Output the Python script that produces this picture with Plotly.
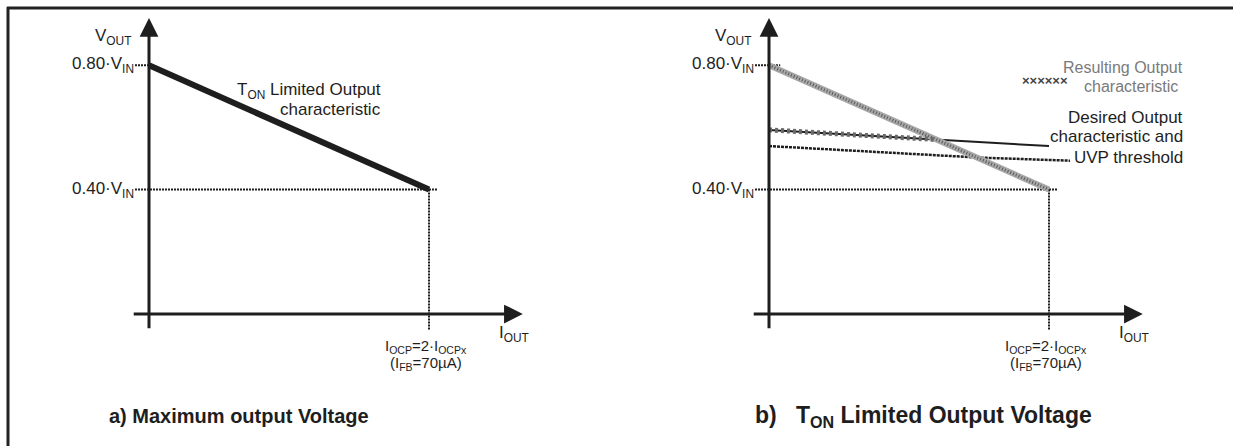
import plotly.graph_objects as go

# ---------------- data (units: x in I_OCP, y in V_IN) ----------------
ton_x = [0.0, 1.0]
ton_y = [0.80, 0.40]
desired_x = [0.0, 1.0]
desired_y = [0.592, 0.540]
uvp_x = [0.0, 0.75, 1.075]
uvp_y = [0.540, 0.503, 0.493]
resulting_x = [0.0, 0.598]
resulting_y = [0.592, 0.561]
v_levels = [0.80, 0.40]
v_labels = ["0.80·V<sub>IN</sub>", "0.40·V<sub>IN</sub>"]
i_ocp = 1.0

W, H = 1234, 446
X0L, X0R, XU = 149, 769, 280.0
Y0, YU = 314, 311.0

FONT = "Liberation Sans, Arial, sans-serif"
INK = "#1e1e1e"
FRAME = "#232323"

fig = go.Figure()

def add_panel(xa, right):
    dot = "2px,1px"
    fig.add_trace(go.Scatter(x=[-0.05, 0.04 if right else 0.0], y=[v_levels[0]] * 2, mode="lines",
                             line=dict(color=INK, width=2, dash=dot), xaxis=xa, yaxis="y", hoverinfo="skip"))
    fig.add_trace(go.Scatter(x=[-0.05, 1.03], y=[v_levels[1]] * 2, mode="lines",
                             line=dict(color=INK, width=2, dash=dot), xaxis=xa, yaxis="y", hoverinfo="skip"))
    fig.add_trace(go.Scatter(x=[i_ocp, i_ocp], y=[v_levels[1], -0.05], mode="lines",
                             line=dict(color=INK, width=2, dash=dot), xaxis=xa, yaxis="y", hoverinfo="skip"))

add_panel("x", False)
add_panel("x2", True)

# left panel: T_ON limited line
fig.add_trace(go.Scatter(x=ton_x, y=ton_y, mode="lines", line=dict(color=INK, width=6),
                         xaxis="x", yaxis="y", hoverinfo="skip"))

# right panel
fig.add_trace(go.Scatter(x=uvp_x, y=uvp_y, mode="lines", line=dict(color=INK, width=2.5, dash="3px,1px"),
                         xaxis="x2", yaxis="y", hoverinfo="skip"))
fig.add_trace(go.Scatter(x=desired_x, y=desired_y, mode="lines", line=dict(color=INK, width=2),
                         xaxis="x2", yaxis="y", hoverinfo="skip"))
fig.add_trace(go.Scatter(x=ton_x, y=ton_y, mode="lines", line=dict(color="#a8a8a8", width=6),
                         xaxis="x2", yaxis="y", hoverinfo="skip"))
fig.add_trace(go.Scatter(x=ton_x, y=ton_y, mode="lines", line=dict(color="#5a5a5a", width=3, dash="1px,2px"),
                         xaxis="x2", yaxis="y", hoverinfo="skip"))
fig.add_trace(go.Scatter(x=resulting_x, y=resulting_y, mode="lines", line=dict(color="#6a6a6a", width=5, dash="3px,3px"),
                         xaxis="x2", yaxis="y", hoverinfo="skip"))

ann = []
def axis_arrow(xa, x, y, ax, ay):
    ann.append(dict(xref=xa, yref="y", axref=xa, ayref="y", x=x, y=y, ax=ax, ay=ay, text="",
                    showarrow=True, arrowhead=2, arrowsize=1.25, arrowwidth=3, arrowcolor=INK))

for xa in ("x", "x2"):
    axis_arrow(xa, 0.0, (Y0 - 18) / YU, 0.0, -0.051)
    axis_arrow(xa, 1.335, 0.0, -0.06, 0.0)

def text(xa, x, y, s, size=17, xanchor="right", color=INK):
    ann.append(dict(xref=xa, yref="y", x=x, y=y, text=s, showarrow=False, xanchor=xanchor,
                    yanchor="middle", font=dict(family=FONT, size=size, color=color)))

for xa in ("x", "x2"):
    text(xa, -0.058, (Y0 - 37) / YU, "V<sub>OUT</sub>")
    for lv, lb in zip(v_levels, v_labels):
        text(xa, -0.048, lv, lb)
    text(xa, 1.243, -0.064, "I<sub>OUT</sub>", xanchor="left")
    text(xa, 0.99, -0.103, "I<sub>OCP</sub>=2·I<sub>OCPx</sub>", size=15, xanchor="center")
    text(xa, 0.99, -0.158, "(I<sub>FB</sub>=70µA)", size=15, xanchor="center")

text("x", 0.836, (Y0 - 91) / YU, "T<sub>ON</sub> Limited Output")
text("x", 0.836, (Y0 - 109) / YU, "characteristic")

gray = "#7a7a7a"
text("x2", 1.486, (Y0 - 67) / YU, "Resulting Output", size=16, color=gray)
text("x2", 1.468, (Y0 - 86) / YU, "characteristic", size=16, color=gray)
text("x2", 0.986, (Y0 - 80) / YU, "<b>××××××</b>", size=13, xanchor="center", color="#444444")
text("x2", 1.486, (Y0 - 117) / YU, "Desired Output")
text("x2", 1.486, (Y0 - 136) / YU, "characteristic and")
text("x2", 1.486, (Y0 - 157) / YU, "UVP threshold")

# bottom captions
for px, s, sz in [(107, "<b>a) Maximum output Voltage</b>", 20),
                  (753, "<b>b)\u00a0\u00a0\u00a0T<sub>ON</sub> Limited Output Voltage</b>", 23)]:
    ann.append(dict(xref="paper", yref="paper", x=px / W, y=1 - 416 / H, text=s, showarrow=False,
                    xanchor="left", yanchor="middle", font=dict(family=FONT, size=sz, color=INK)))

# open frame (top and left edges only)
shapes = [
    dict(type="line", xref="paper", yref="paper", x0=7 / W, x1=(W - 1) / W, y0=1 - 8 / H, y1=1 - 8 / H,
         line=dict(color=FRAME, width=3)),
    dict(type="line", xref="paper", yref="paper", x0=8 / W, x1=8 / W, y0=1 - 7 / H, y1=0,
         line=dict(color=FRAME, width=3)),
]

fig.update_layout(
    width=W, height=H, margin=dict(l=0, r=0, t=0, b=0),
    paper_bgcolor="white", plot_bgcolor="white", showlegend=False,
    xaxis=dict(domain=[0, 1], range=[-X0L / XU, (W - X0L) / XU], visible=False, fixedrange=True),
    xaxis2=dict(domain=[0, 1], range=[-X0R / XU, (W - X0R) / XU], visible=False, overlaying="x", fixedrange=True),
    yaxis=dict(domain=[0, 1], range=[(Y0 - H) / YU, Y0 / YU], visible=False, fixedrange=True),
    annotations=ann, shapes=shapes,
)

fig.write_html("out.html", config={"displayModeBar": False},
               post_script="document.body.style.margin='0';document.body.style.overflow='hidden';"
                           "document.documentElement.style.overflow='hidden';")
